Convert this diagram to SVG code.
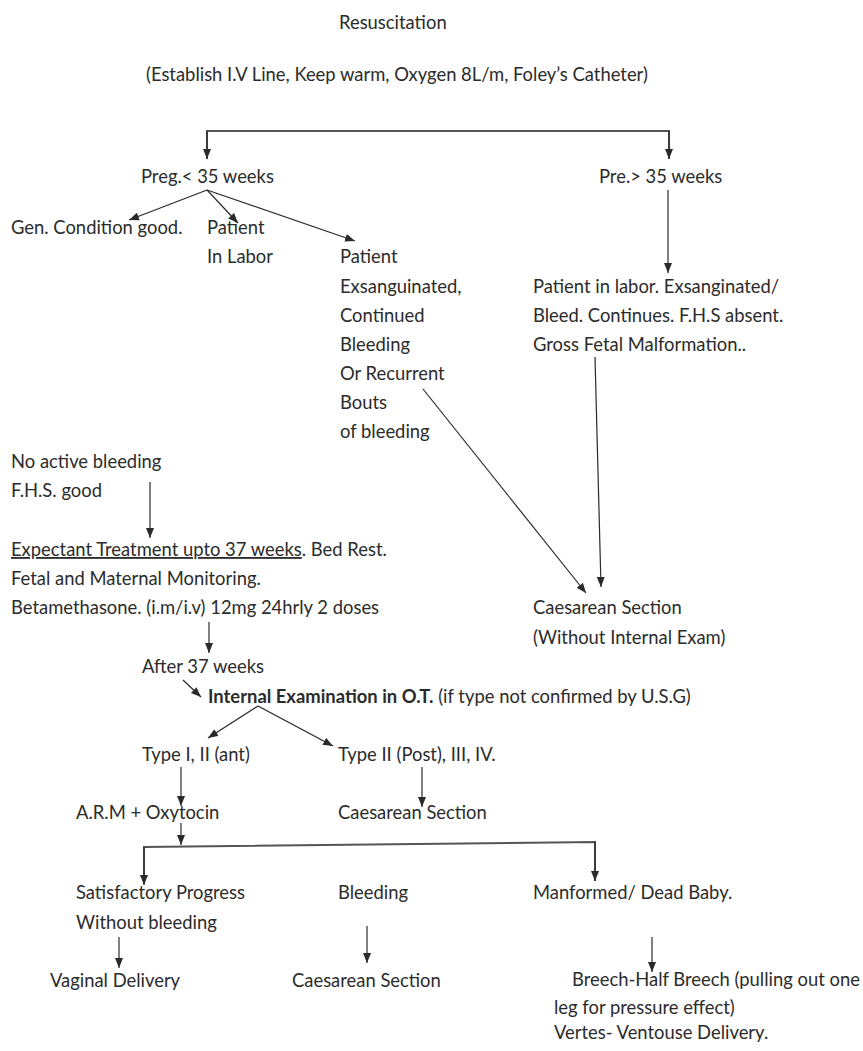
<svg xmlns="http://www.w3.org/2000/svg" width="863" height="1051" viewBox="0 0 863 1051">
<defs>
<style>
text{font-family:Lato,"Open Sans","Liberation Sans",sans-serif;font-size:18.4px;fill:#2b2b2b}
.b{font-weight:bold}
.c{fill:none;stroke:#2a2a2a;stroke-width:1.2}
.h{fill:none;stroke:#555;stroke-width:2}
</style>
<marker id="ah" markerUnits="userSpaceOnUse" markerWidth="10" markerHeight="8" refX="10" refY="4" orient="auto">
<path d="M0,0 L10,4 L0,8 z" fill="#2a2a2a"/>
</marker>
</defs>
<rect width="863" height="1051" fill="#fff"/>
<g id="connectors">
<path class="h" d="M207,159 V131 H669 V159"/>
<path class="c" d="M207,131 V159" marker-end="url(#ah)"/>
<path class="c" d="M669,131 V159" marker-end="url(#ah)"/>
<path class="c" d="M207,190 L129,220" marker-end="url(#ah)"/>
<path class="c" d="M207,190 L238,223" marker-end="url(#ah)"/>
<path class="c" d="M207,190 L355,241" marker-end="url(#ah)"/>
<path class="c" d="M668,190 V273" marker-end="url(#ah)"/>
<path class="c" d="M423,389 L586,593" marker-end="url(#ah)"/>
<path class="c" d="M595,357 L601,587" marker-end="url(#ah)"/>
<path class="c" d="M150,482 V538" marker-end="url(#ah)"/>
<path class="c" d="M209,622 V653" marker-end="url(#ah)"/>
<path class="c" d="M183,680 L201,697" marker-end="url(#ah)"/>
<path class="c" d="M258,706 L208,738" marker-end="url(#ah)"/>
<path class="c" d="M258,706 L333,746" marker-end="url(#ah)"/>
<path class="c" d="M181,767 V806" marker-end="url(#ah)"/>
<path class="c" d="M422,767 V807" marker-end="url(#ah)"/>
<path class="c" d="M181,823 V845" marker-end="url(#ah)"/>
<path class="h" d="M144,884 V847 L595,842 V881"/>
<path class="c" d="M144,847 V885" marker-end="url(#ah)"/>
<path class="c" d="M595,842 V881" marker-end="url(#ah)"/>
<path class="c" d="M119,937 V968" marker-end="url(#ah)"/>
<path class="c" d="M367,926 V963" marker-end="url(#ah)"/>
<path class="c" d="M652,937 V972" marker-end="url(#ah)"/>
</g>
<g id="resuscitation"><text x="339" y="29">Resuscitation</text></g>
<g id="establish"><text x="146" y="81">(Establish I.V Line, Keep warm, Oxygen 8L/m, Foley’s Catheter)</text></g>
<g id="preg-lt35"><text x="141" y="183">Preg.&lt; 35 weeks</text></g>
<g id="preg-gt35"><text x="599" y="183">Pre.&gt; 35 weeks</text></g>
<g id="gen-condition"><text x="11" y="234">Gen. Condition good.</text></g>
<g id="in-labor"><text x="207" y="234">Patient</text><text x="207" y="263">In Labor</text></g>
<g id="exsanguinated">
<text x="340" y="263">Patient</text>
<text x="340" y="293">Exsanguinated,</text>
<text x="340" y="322">Continued</text>
<text x="340" y="351">Bleeding</text>
<text x="340" y="380">Or Recurrent</text>
<text x="340" y="409">Bouts</text>
<text x="340" y="438">of bleeding</text>
</g>
<g id="labor-gt35">
<text x="533" y="293">Patient in labor. Exsanginated/</text>
<text x="533" y="322">Bleed. Continues. F.H.S absent.</text>
<text x="533" y="351">Gross Fetal Malformation..</text>
</g>
<g id="no-active"><text x="11" y="468">No active bleeding</text><text x="11" y="497">F.H.S. good</text></g>
<g id="expectant">
<text x="11" y="556"><tspan text-decoration="underline">Expectant Treatment upto 37 weeks</tspan>. Bed Rest.</text>
<text x="11" y="585">Fetal and Maternal Monitoring.</text>
<text x="11" y="614">Betamethasone. (i.m/i.v) 12mg 24hrly 2 doses</text>
</g>
<g id="caesarean-1"><text x="533" y="614">Caesarean Section</text><text x="533" y="644">(Without Internal Exam)</text></g>
<g id="after37"><text x="142" y="673">After 37 weeks</text></g>
<g id="internal"><text x="208" y="703"><tspan class="b">Internal Examination in O.T.</tspan> (if type not confirmed by U.S.G)</text></g>
<g id="type-ant"><text x="142" y="761">Type I, II (ant)</text></g>
<g id="type-post"><text x="338" y="761">Type II (Post), III, IV.</text></g>
<g id="arm"><text x="76" y="819">A.R.M + Oxytocin</text></g>
<g id="caesarean-2"><text x="338" y="819">Caesarean Section</text></g>
<g id="satisfactory"><text x="76" y="899">Satisfactory Progress</text><text x="76" y="929">Without bleeding</text></g>
<g id="bleeding"><text x="338" y="899">Bleeding</text></g>
<g id="malformed"><text x="533" y="899">Manformed/ Dead Baby.</text></g>
<g id="vaginal"><text x="50" y="987">Vaginal Delivery</text></g>
<g id="caesarean-3"><text x="292" y="987">Caesarean Section</text></g>
<g id="breech">
<text x="572" y="986">Breech-Half Breech (pulling out one</text>
<text x="554" y="1014">leg for pressure effect)</text>
<text x="554" y="1039">Vertes- Ventouse Delivery.</text>
</g>
</svg>
